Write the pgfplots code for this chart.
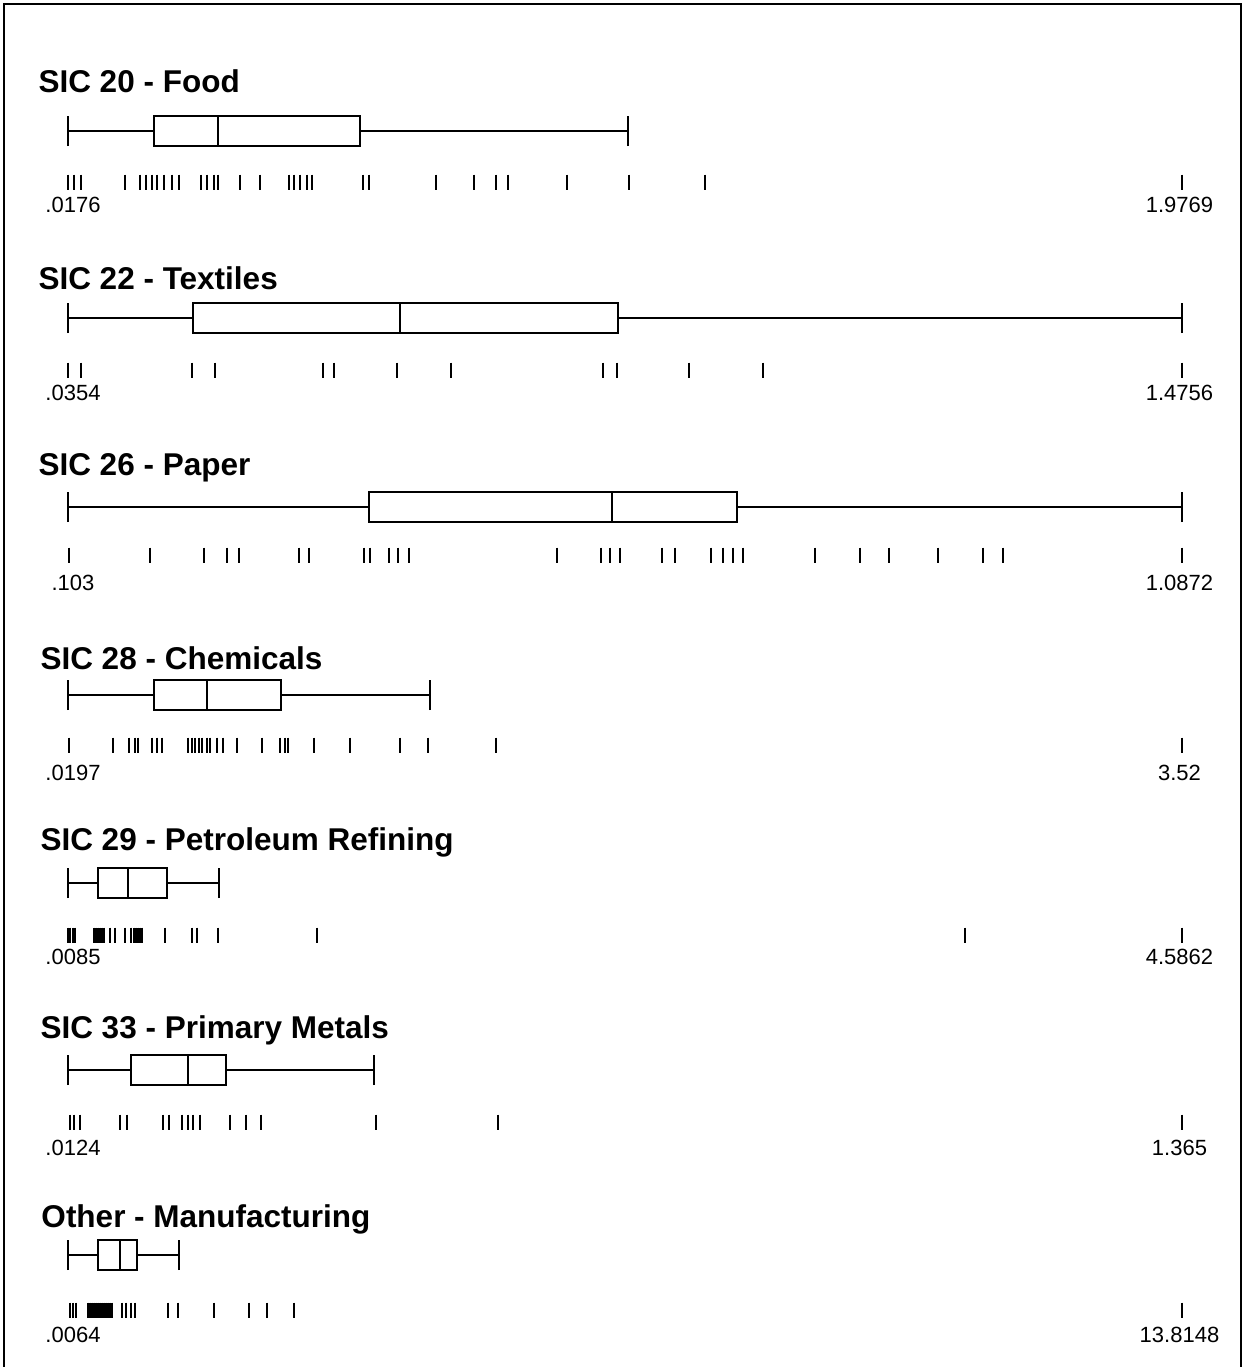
\documentclass[border=0pt]{standalone}
\usepackage{pgfplots}
\pgfplotsset{compat=1.18}
\usepgfplotslibrary{statistics}
\usepackage{fontspec}
\setmainfont{Liberation Sans}
\pgfplotsset{
  panel/.style={scale only axis, width=445.6pt, height=68pt, ymin=-40, ymax=130,
    hide axis, clip=false, anchor=south west},
  rug/.style={only marks, mark=|, mark size=3pt, line width=0.8pt, black},
  bx/.style={black, line width=1pt, fill=none},
}
\tikzset{lbl/.style={font=\fontsize{8.8}{10}\selectfont, inner sep=0pt},
  ttl/.style={font=\fontsize{12.6}{14}\selectfont\bfseries, inner sep=0pt, anchor=base west}}
\begin{document}
\begin{tikzpicture}
\useasboundingbox (0,0) rectangle (498.8pt,-546.8pt);
\draw[line width=0.8pt] (1.6pt,-546.8pt) -- (1.6pt,-1.6pt) -- (496.4pt,-1.6pt) -- (496.4pt,-546.8pt);

% SIC 20 - Food
\begin{axis}[panel, at={(27.2pt,-88.8pt)}, xmin=0.0176, xmax=1.9769]
\addplot[bx, boxplot prepared={lower whisker=0.0176, lower quartile=0.1689, median=0.2814, upper quartile=0.5312, upper whisker=1.0025, draw position=51, box extend=30, whisker extend=30, draw direction=x}] coordinates {};
\addplot[rug] coordinates {(0.0176,0)(0.0282,0)(0.0405,0)(0.1179,0)(0.1442,0)(0.1548,0)(0.1653,0)(0.1741,0)(0.1864,0)(0.2005,0)(0.2128,0)(0.2515,0)(0.2621,0)(0.2744,0)(0.2814,0)(0.3201,0)(0.3553,0)(0.4063,0)(0.4151,0)(0.4256,0)(0.4379,0)(0.4467,0)(0.5364,0)(0.5470,0)(0.6648,0)(0.7317,0)(0.7704,0)(0.7915,0)(0.8952,0)(1.0043,0)(1.1380,0)(1.9769,0)};
\node[lbl, xshift=2pt] at (axis cs:0.0176,-23) {.0176};
\node[lbl, xshift=-1pt] at (axis cs:1.9769,-23) {1.9769};
\end{axis}

% SIC 22 - Textiles
\begin{axis}[panel, at={(27.2pt,-164pt)}, xmin=0.0354, xmax=1.4756]
\addplot[bx, boxplot prepared={lower whisker=0.0354, lower quartile=0.1970, median=0.4646, upper quartile=0.7464, upper whisker=1.4756, draw position=52, box extend=30, whisker extend=30, draw direction=x}] coordinates {};
\addplot[rug] coordinates {(0.0354,0)(0.0522,0)(0.1957,0)(0.2254,0)(0.3651,0)(0.3793,0)(0.4607,0)(0.5305,0)(0.7270,0)(0.7451,0)(0.8382,0)(0.9339,0)(1.4756,0)};
\node[lbl, xshift=2pt] at (axis cs:0.0354,-23) {.0354};
\node[lbl, xshift=-1pt] at (axis cs:1.4756,-23) {1.4756};
\end{axis}

% SIC 26 - Paper
\begin{axis}[panel, at={(27.2pt,-238pt)}, xmin=0.103, xmax=1.0872]
\addplot[bx, boxplot prepared={lower whisker=0.103, lower quartile=0.3689, median=0.5836, upper quartile=0.6940, upper whisker=1.0872, draw position=48, box extend=30, whisker extend=30, draw direction=x}] coordinates {};
\addplot[rug] coordinates {(0.1039,0)(0.1754,0)(0.2232,0)(0.2435,0)(0.2541,0)(0.3071,0)(0.3159,0)(0.3645,0)(0.3698,0)(0.3866,0)(0.3945,0)(0.4042,0)(0.5350,0)(0.5739,0)(0.5818,0)(0.5907,0)(0.6278,0)(0.6393,0)(0.6711,0)(0.6817,0)(0.6905,0)(0.6993,0)(0.7630,0)(0.8027,0)(0.8283,0)(0.8716,0)(0.9114,0)(0.9291,0)(1.0872,0)};
\node[lbl, xshift=2pt] at (axis cs:0.103,-28) {.103};
\node[lbl, xshift=-1pt] at (axis cs:1.0872,-28) {1.0872};
\end{axis}

% SIC 28 - Chemicals
\begin{axis}[panel, at={(27.2pt,-314pt)}, xmin=0.0197, xmax=3.52]
\addplot[bx, boxplot prepared={lower whisker=0.0197, lower quartile=0.2899, median=0.4565, upper quartile=0.6890, upper whisker=1.1571, draw position=50, box extend=30, whisker extend=30, draw direction=x}] coordinates {};
\addplot[rug] coordinates {(0.0228,0)(0.1611,0)(0.2114,0)(0.2302,0)(0.2396,0)(0.2836,0)(0.2993,0)(0.3150,0)(0.3968,0)(0.4093,0)(0.4187,0)(0.4313,0)(0.4407,0)(0.4565,0)(0.4659,0)(0.4879,0)(0.5067,0)(0.5507,0)(0.6293,0)(0.6858,0)(0.7015,0)(0.7110,0)(0.7927,0)(0.9058,0)(1.0629,0)(1.1509,0)(1.3645,0)(3.52,0)};
\node[lbl, xshift=2pt] at (axis cs:0.0197,-28) {.0197};
\node[lbl, xshift=-1pt] at (axis cs:3.52,-28) {3.52};
\end{axis}

% SIC 29 - Petroleum Refining
\begin{axis}[panel, at={(27.2pt,-390pt)}, xmin=0.0085, xmax=4.5862]
\addplot[bx, boxplot prepared={lower whisker=0.0085, lower quartile=0.1318, median=0.2551, upper quartile=0.4153, upper whisker=0.6290, draw position=52, box extend=30, whisker extend=30, draw direction=x}] coordinates {};
\addplot[rug] coordinates {(0.0085,0)(0.0167,0)(0.0290,0)(0.0373,0)(0.1153,0)(0.1236,0)(0.1318,0)(0.1400,0)(0.1482,0)(0.1564,0)(0.1811,0)(0.2016,0)(0.2427,0)(0.2674,0)(0.2797,0)(0.2879,0)(0.2961,0)(0.3044,0)(0.3126,0)(0.4071,0)(0.5181,0)(0.5386,0)(0.6249,0)(1.0317,0)(3.6945,0)(4.5862,0)};
\node[lbl, xshift=2pt] at (axis cs:0.0085,-22) {.0085};
\node[lbl, xshift=-1pt] at (axis cs:4.5862,-22) {4.5862};
\end{axis}

% SIC 33 - Primary Metals
\begin{axis}[panel, at={(27.2pt,-464.8pt)}, xmin=0.0124, xmax=1.365]
\addplot[bx, boxplot prepared={lower whisker=0.0124, lower quartile=0.0889, median=0.1581, upper quartile=0.2042, upper whisker=0.3840, draw position=52, box extend=30, whisker extend=30, draw direction=x}] coordinates {};
\addplot[rug] coordinates {(0.0148,0)(0.0197,0)(0.0270,0)(0.0755,0)(0.0840,0)(0.1277,0)(0.1350,0)(0.1508,0)(0.1581,0)(0.1642,0)(0.1726,0)(0.2091,0)(0.2285,0)(0.2467,0)(0.3864,0)(0.5345,0)(1.365,0)};
\node[lbl, xshift=2pt] at (axis cs:0.0124,-26) {.0124};
\node[lbl, xshift=-1pt] at (axis cs:1.365,-26) {1.365};
\end{axis}

% Other - Manufacturing
\begin{axis}[panel, at={(27.2pt,-540pt)}, xmin=0.0064, xmax=13.8148]
\addplot[bx, boxplot prepared={lower whisker=0.0064, lower quartile=0.3783, median=0.6509, upper quartile=0.8617, upper whisker=1.3823, draw position=55, box extend=30, whisker extend=30, draw direction=x}] coordinates {};
\addplot[rug] coordinates {(0.0312,0)(0.0684,0)(0.1056,0)(0.2543,0)(0.2791,0)(0.3039,0)(0.3287,0)(0.3535,0)(0.3783,0)(0.4030,0)(0.4278,0)(0.4526,0)(0.4774,0)(0.5022,0)(0.5270,0)(0.5518,0)(0.6757,0)(0.7253,0)(0.7873,0)(0.8369,0)(1.2459,0)(1.3699,0)(1.8161,0)(2.2499,0)(2.4730,0)(2.8077,0)(13.8148,0)};
\node[lbl, xshift=2pt] at (axis cs:0.0064,-25) {.0064};
\node[lbl, xshift=-1pt] at (axis cs:13.8148,-25) {13.8148};
\end{axis}

\node[ttl] at (15.2pt,-36.8pt) {SIC 20 - Food};
\node[ttl] at (15.2pt,-115.6pt) {SIC 22 - Textiles};
\node[ttl] at (15.2pt,-190pt) {SIC 26 - Paper};
\node[ttl] at (16pt,-267.6pt) {SIC 28 - Chemicals};
\node[ttl] at (16pt,-340pt) {SIC 29 - Petroleum Refining};
\node[ttl] at (16pt,-415.2pt) {SIC 33 - Primary Metals};
\node[ttl] at (16.4pt,-490.8pt) {Other - Manufacturing};
\end{tikzpicture}
\end{document}
